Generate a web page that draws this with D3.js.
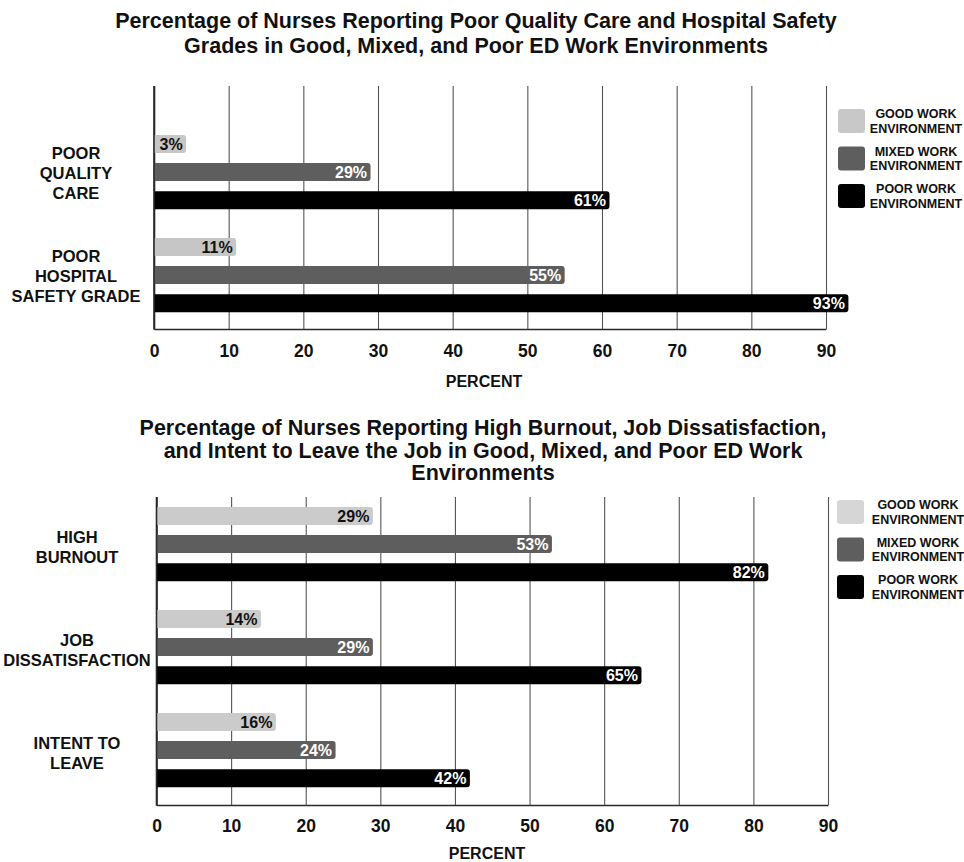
<!DOCTYPE html>
<html>
<head>
<meta charset="utf-8">
<script src="https://cdn.jsdelivr.net/npm/d3@7"></script>
<style>
  html, body { margin: 0; padding: 0; background: #fff; }
  svg { display: block; font-family: "Liberation Sans", Arial, sans-serif; }
</style>
</head>
<body>
<svg id="chart" width="964" height="862"></svg>
<script>
// ---------------- DATA ----------------
const seriesNames = [
  ["GOOD WORK", "ENVIRONMENT"],
  ["MIXED WORK", "ENVIRONMENT"],
  ["POOR WORK", "ENVIRONMENT"]
];
const xTicks = [0, 10, 20, 30, 40, 50, 60, 70, 80, 90];

const topTitle = [
  "Percentage of Nurses Reporting Poor Quality Care and Hospital Safety",
  "Grades in Good, Mixed, and Poor ED Work Environments"
];
const topCategories = [
  ["POOR", "QUALITY", "CARE"],
  ["POOR", "HOSPITAL", "SAFETY GRADE"]
];
const topGood  = [3, 11];
const topMixed = [29, 55];
const topPoor  = [61, 93];

const bottomTitle = [
  "Percentage of Nurses Reporting High Burnout, Job Dissatisfaction,",
  "and Intent to Leave the Job in Good, Mixed, and Poor ED Work",
  "Environments"
];
const bottomCategories = [
  ["HIGH", "BURNOUT"],
  ["JOB", "DISSATISFACTION"],
  ["INTENT TO", "LEAVE"]
];
const bottomGood  = [29, 14, 16];
const bottomMixed = [53, 29, 24];
const bottomPoor  = [82, 65, 42];

const axisTitle = "PERCENT";

// ---------------- DRAW ----------------
const svg = d3.select("#chart");
svg.append("rect").attr("width", 964).attr("height", 862).attr("fill", "#fff");

function barPath(x, y, w, h, r) {
  r = Math.min(r, w, h / 2);
  return `M${x},${y}h${w - r}a${r},${r} 0 0 1 ${r},${r}v${h - 2 * r}a${r},${r} 0 0 1 ${-r},${r}h${-(w - r)}Z`;
}

function drawChart(cfg) {
  const g = svg.append("g");
  const seriesKeys = [0, 1, 2];
  const values = [cfg.good, cfg.mixed, cfg.poor];

  // title
  g.append("text")
    .attr("x", cfg.titleX)
    .attr("text-anchor", "middle")
    .attr("font-size", cfg.titleSize)
    .attr("font-weight", "bold")
    .attr("fill", "#111")
    .selectAll("tspan")
    .data(cfg.title)
    .join("tspan")
    .attr("x", cfg.titleX)
    .attr("y", (d, i) => cfg.titleY + i * cfg.titleLH)
    .text(d => d);

  const x = d3.scaleLinear().domain([0, 90]).range([cfg.x0, cfg.x1]);
  const catIdx = d3.range(cfg.categories.length);
  const y0 = d3.scaleBand().domain(catIdx).range(cfg.bandRange)
    .paddingInner(0.28).paddingOuter(0.14);
  const y1 = d3.scaleBand().domain(seriesKeys).range([0, y0.bandwidth()])
    .paddingInner(0.357).paddingOuter(0);

  // gridlines + axis via d3 axis
  const axis = d3.axisBottom(x).tickValues(xTicks).tickFormat(d3.format("d"))
    .tickSizeInner(-(cfg.yBottom - cfg.yTop)).tickSizeOuter(0).tickPadding(cfg.tickPad);
  const ax = g.append("g").attr("transform", `translate(0,${cfg.yBottom})`).call(axis);
  ax.select(".domain").attr("stroke", "#2a2a2a").attr("stroke-width", 1.6);
  ax.selectAll(".tick line").attr("stroke", "#555").attr("stroke-width", 1.1);
  ax.selectAll(".tick text")
    .attr("font-size", 17.5).attr("font-weight", "bold").attr("fill", "#111")
    .attr("font-family", '"Liberation Sans", Arial, sans-serif');
  ax.selectAll(".tick").filter(d => d === 0).select("line")
    .attr("stroke", "#2a2a2a").attr("stroke-width", 1.6);

  // axis title
  g.append("text")
    .attr("x", cfg.axisTitleX).attr("y", cfg.axisTitleY)
    .attr("text-anchor", "middle").attr("font-size", 16).attr("font-weight", "bold")
    .attr("fill", "#111").text(axisTitle);

  // category labels
  cfg.categories.forEach((lines, i) => {
    const cy = y0(i) + y0.bandwidth() / 2 + cfg.catShift;
    const t = g.append("text").attr("text-anchor", "middle")
      .attr("font-size", 16.5).attr("font-weight", "bold").attr("fill", "#111");
    const n = lines.length;
    lines.forEach((ln, j) => {
      t.append("tspan").attr("x", cfg.catX)
        .attr("y", cy + (j - (n - 1) / 2) * 20)
        .attr("dy", "0.35em").text(ln);
    });
  });

  // bars
  const bars = g.append("g");
  catIdx.forEach(ci => {
    seriesKeys.forEach(si => {
      const v = values[si][ci];
      const label = v + "%";
      const by = y0(ci) + y1(si);
      const bh = y1.bandwidth();
      const bx = x(0);
      const tmp = bars.append("text").attr("font-size", 16).attr("font-weight", "bold").text(label);
      const tw = tmp.node().getComputedTextLength();
      tmp.remove();
      const w = Math.max(x(v) - x(0), tw + 9);
      bars.append("path")
        .attr("d", barPath(bx, by, w, bh, 3))
        .attr("fill", cfg.colors[si]);
      bars.append("text")
        .attr("x", bx + w - 3.5)
        .attr("y", by + bh / 2)
        .attr("dy", "0.36em")
        .attr("text-anchor", "end")
        .attr("font-size", 16).attr("font-weight", "bold")
        .attr("fill", si === 0 ? "#111" : "#fff")
        .text(label);
    });
  });

  // left axis line on top
  g.append("line").attr("x1", x(0)).attr("x2", x(0))
    .attr("y1", cfg.yTop).attr("y2", cfg.yBottom + 0.8)
    .attr("stroke", "#2a2a2a").attr("stroke-width", 1.6);

  // legend
  const lg = g.append("g");
  seriesKeys.forEach(si => {
    const sy = cfg.legendY + si * cfg.legendStep;
    lg.append("rect").attr("x", cfg.legendX).attr("y", sy)
      .attr("width", 27).attr("height", 24).attr("rx", 3)
      .attr("fill", cfg.legendColors[si]);
    const t = lg.append("text").attr("text-anchor", "middle")
      .attr("font-size", 12.5).attr("font-weight", "bold").attr("fill", "#111");
    seriesNames[si].forEach((ln, j) => {
      t.append("tspan").attr("x", cfg.legendTextX)
        .attr("y", sy + 5 + j * 14.5).attr("dy", "0.35em").text(ln);
    });
  });
}

drawChart({
  title: topTitle, titleX: 476, titleY: 28, titleLH: 25, titleSize: 21.5,
  categories: topCategories, good: topGood, mixed: topMixed, poor: topPoor,
  x0: 154, x1: 826, yTop: 86, yBottom: 329, bandRange: [120.6, 326.6],
  tickPad: 16, axisTitleX: 484, axisTitleY: 387, catX: 76, catShift: 1,
  colors: ["#c6c6c6", "#5e5e5e", "#000000"],
  legendColors: ["#c8c8c8", "#5e5e5e", "#000000"],
  legendX: 838, legendY: 109, legendStep: 37.5, legendTextX: 916
});

drawChart({
  title: bottomTitle, titleX: 483, titleY: 435, titleLH: 22.5, titleSize: 21.5,
  categories: bottomCategories, good: bottomGood, mixed: bottomMixed, poor: bottomPoor,
  x0: 156.5, x1: 828, yTop: 497, yBottom: 805, bandRange: [492.6, 801.6],
  tickPad: 15, axisTitleX: 487, axisTitleY: 859, catX: 77, catShift: 3,
  colors: ["#cbcbcb", "#5e5e5e", "#000000"],
  legendColors: ["#d6d6d6", "#5e5e5e", "#000000"],
  legendX: 837, legendY: 500, legendStep: 37.5, legendTextX: 918
});
</script>
</body>
</html>
